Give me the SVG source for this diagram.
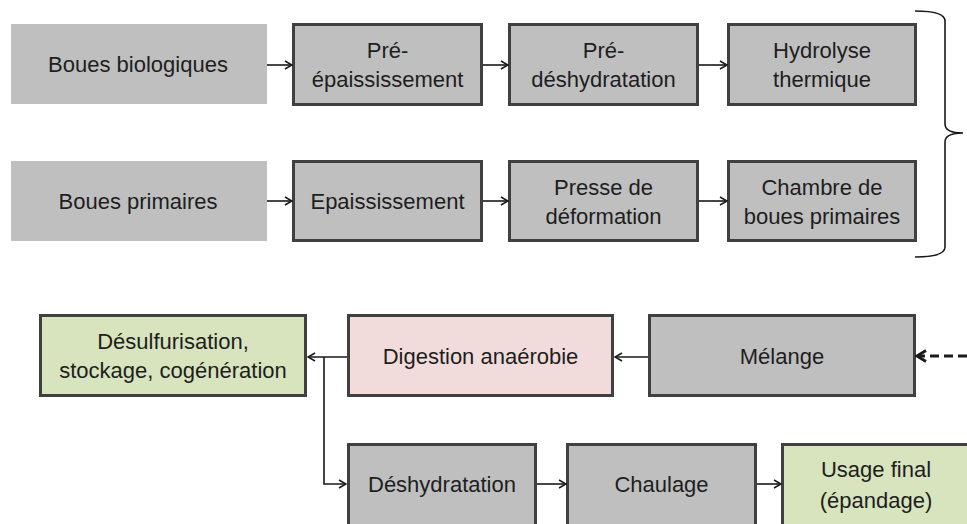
<svg xmlns="http://www.w3.org/2000/svg" width="967" height="524" viewBox="0 0 967 524">
<defs>
<style>
.b{stroke:#404040;stroke-width:3}
.g{fill:#bfbfbf}
.gr{fill:#d7e4bd}
.pk{fill:#f2dcdb}
text{font-family:"Liberation Sans",Arial,sans-serif;font-size:22px;fill:#1e1e1e;text-anchor:middle}
.c{fill:none;stroke:#1a1a1a;stroke-width:1.6}
.d{fill:none;stroke:#1a1a1a;stroke-width:3;stroke-dasharray:9 5}
</style>
<marker id="a" viewBox="0 0 10 10" refX="9" refY="5" markerWidth="10" markerHeight="10" markerUnits="userSpaceOnUse" orient="auto">
<path d="M2,1 L9,5 L2,9" fill="none" stroke="#1a1a1a" stroke-width="1.6"/>
</marker>
<marker id="ad" viewBox="0 0 14 14" refX="12" refY="7" markerWidth="14" markerHeight="14" markerUnits="userSpaceOnUse" orient="auto">
<path d="M3,1.5 L12,7 L3,12.5" fill="none" stroke="#1a1a1a" stroke-width="3"/>
</marker>
</defs>
<rect width="967" height="524" fill="#ffffff"/>

<g id="boues-bio"><rect class="g" x="11" y="24" width="256" height="80"/><text x="138" y="72">Boues biologiques</text></g>
<g id="pre-epaississement"><rect class="g b" x="293.5" y="24.5" width="188" height="80"/><text x="387.5" y="58">Pré-</text><text x="387.5" y="87">épaississement</text></g>
<g id="pre-deshydratation"><rect class="g b" x="509.5" y="24.5" width="188" height="80"/><text x="603.5" y="58">Pré-</text><text x="603.5" y="87">déshydratation</text></g>
<g id="hydrolyse"><rect class="g b" x="728.5" y="24.5" width="187" height="80"/><text x="822" y="58">Hydrolyse</text><text x="822" y="87">thermique</text></g>

<g id="boues-prim"><rect class="g" x="11" y="161" width="256" height="80"/><text x="138" y="209">Boues primaires</text></g>
<g id="epaississement"><rect class="g b" x="293.5" y="161.5" width="188" height="79"/><text x="387.5" y="209">Epaississement</text></g>
<g id="presse"><rect class="g b" x="509.5" y="161.5" width="188" height="79"/><text x="603.5" y="195">Presse de</text><text x="603.5" y="224">déformation</text></g>
<g id="chambre"><rect class="g b" x="728.5" y="161.5" width="187" height="79"/><text x="822" y="195">Chambre de</text><text x="822" y="224">boues primaires</text></g>

<g id="desulf"><rect class="gr b" x="40.5" y="315.5" width="265" height="80"/><text x="173" y="349">Désulfurisation,</text><text x="173" y="378">stockage, cogénération</text></g>
<g id="digestion"><rect class="pk b" x="348.5" y="315.5" width="264" height="80"/><text x="480.5" y="364">Digestion anaérobie</text></g>
<g id="melange"><rect class="g b" x="649.5" y="315.5" width="265" height="80"/><text x="782" y="364">Mélange</text></g>

<g id="deshydratation"><rect class="g b" x="348.5" y="444.5" width="187" height="90"/><text x="442" y="492">Déshydratation</text></g>
<g id="chaulage"><rect class="g b" x="567.5" y="444.5" width="188" height="90"/><text x="661.5" y="492">Chaulage</text></g>
<g id="usage"><rect class="gr b" x="782.5" y="444.5" width="200" height="90"/><text x="876" y="477">Usage final</text><text x="876" y="508">(épandage)</text></g>

<g id="connectors">
<line class="c" x1="267" y1="65" x2="292" y2="65" marker-end="url(#a)"/>
<line class="c" x1="483" y1="65" x2="508" y2="65" marker-end="url(#a)"/>
<line class="c" x1="699" y1="65" x2="727" y2="65" marker-end="url(#a)"/>
<line class="c" x1="267" y1="201" x2="292" y2="201" marker-end="url(#a)"/>
<line class="c" x1="483" y1="201" x2="508" y2="201" marker-end="url(#a)"/>
<line class="c" x1="699" y1="201" x2="727" y2="201" marker-end="url(#a)"/>
<path class="c" d="M915,11 Q945,11 945,21 L945,124 Q945,133 963,133 Q945,133 945,142 L945,247 Q945,257 915,257"/>
<line class="d" x1="967" y1="356" x2="917" y2="356" marker-end="url(#ad)"/>
<line class="c" x1="648" y1="357" x2="615" y2="357" marker-end="url(#a)"/>
<line class="c" x1="347" y1="357" x2="308" y2="357" marker-end="url(#a)"/>
<path class="c" d="M324,357 L324,484 L346,484" marker-end="url(#a)"/>
<line class="c" x1="537" y1="484" x2="566" y2="484" marker-end="url(#a)"/>
<line class="c" x1="757" y1="484" x2="781" y2="484" marker-end="url(#a)"/>
</g>
</svg>
